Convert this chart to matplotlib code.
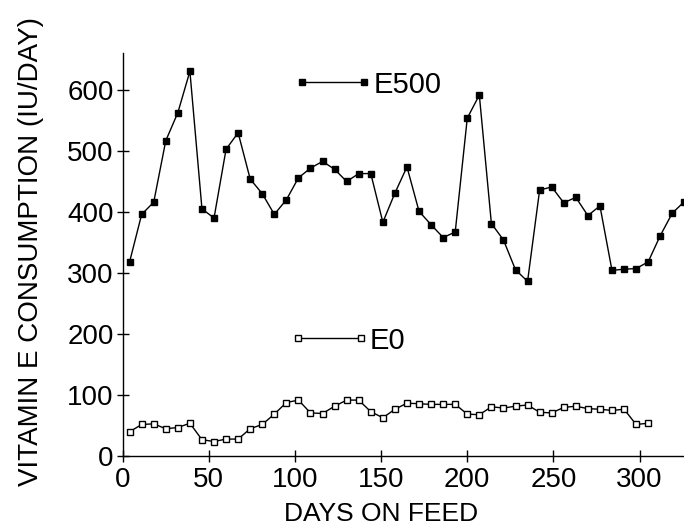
from matplotlib import pyplot as plt

plt.rcParams['font.family'] = ['Liberation Sans', 'DejaVu Sans']

# days on feed (weekly)
days_e500 = [4, 11, 18, 25, 32, 39, 46, 53, 60, 67, 74, 81, 88, 95, 102, 109,
             116, 123, 130, 137, 144, 151, 158, 165, 172, 179, 186, 193, 200,
             207, 214, 221, 228, 235, 242, 249, 256, 263, 270, 277, 284, 291,
             298, 305, 312, 319, 326]
e500 = [318, 396, 416, 517, 563, 631, 405, 390, 503, 530, 454, 430, 396, 420,
        456, 472, 483, 470, 450, 463, 463, 383, 431, 474, 401, 379, 358, 367,
        554, 592, 381, 354, 305, 286, 436, 441, 415, 424, 394, 410, 304, 306,
        307, 318, 361, 398, 417]

days_e0 = [4, 11, 18, 25, 32, 39, 46, 53, 60, 67, 74, 81, 88, 95, 102, 109,
           116, 123, 130, 137, 144, 151, 158, 165, 172, 179, 186, 193, 200,
           207, 214, 221, 228, 235, 242, 249, 256, 263, 270, 277, 284, 291,
           298, 305]
e0 = [39, 51, 52, 44, 46, 53, 26, 23, 27, 27, 44, 51, 68, 87, 91, 70, 69, 81,
      91, 91, 72, 62, 76, 86, 85, 84, 84, 84, 68, 67, 80, 78, 81, 83, 71, 70,
      79, 81, 77, 76, 74, 76, 51, 53]

xticks = [0, 50, 100, 150, 200, 250, 300]
yticks = [0, 100, 200, 300, 400, 500, 600]

fig = plt.figure(figsize=(6.84, 5.29), dpi=100)
ax = fig.add_axes([0.1794, 0.1389, 0.8206, 0.7609])

l500, = ax.plot(days_e500, e500, color='black', lw=1.0, marker='s',
                markersize=5, markerfacecolor='black', markeredgecolor='black')
l0, = ax.plot(days_e0, e0, color='black', lw=1.0, marker='s', markersize=4.5,
              markerfacecolor='white', markeredgecolor='black', mew=1.0)

ax.set_xlim(0, 325.8)
ax.set_ylim(0, 661)
ax.set_xticks(xticks)
ax.set_yticks(yticks)

for s in ['top', 'right']:
    ax.spines[s].set_visible(False)
for s in ['left', 'bottom']:
    ax.spines[s].set_linewidth(1.0)

ax.tick_params(axis='both', direction='inout', length=9, width=1.0,
               labelsize=20)
ax.tick_params(axis='y', pad=2)
ax.tick_params(axis='x', pad=4)

ax.set_xlabel('DAYS ON FEED', fontsize=19)
ax.set_ylabel('VITAMIN E CONSUMPTION (IU/DAY)', fontsize=20)
ax.xaxis.set_label_coords(0.46, -0.1155)
ax.yaxis.set_label_coords(-0.140, 0.507)

leg1 = ax.legend([l500], ['E500'], numpoints=2, frameon=False, fontsize=21,
                 handlelength=2.75, handletextpad=0.0, borderpad=0,
                 borderaxespad=0, loc='center left',
                 bbox_to_anchor=(98.8, 609), bbox_transform=ax.transData)
ax.add_artist(leg1)
ax.legend([l0], ['E0'], numpoints=2, frameon=False, fontsize=21,
          handlelength=2.75, handletextpad=0.0, borderpad=0,
          borderaxespad=0, loc='center left',
          bbox_to_anchor=(96.8, 188.7), bbox_transform=ax.transData)

fig.savefig('out.png', dpi=100)
